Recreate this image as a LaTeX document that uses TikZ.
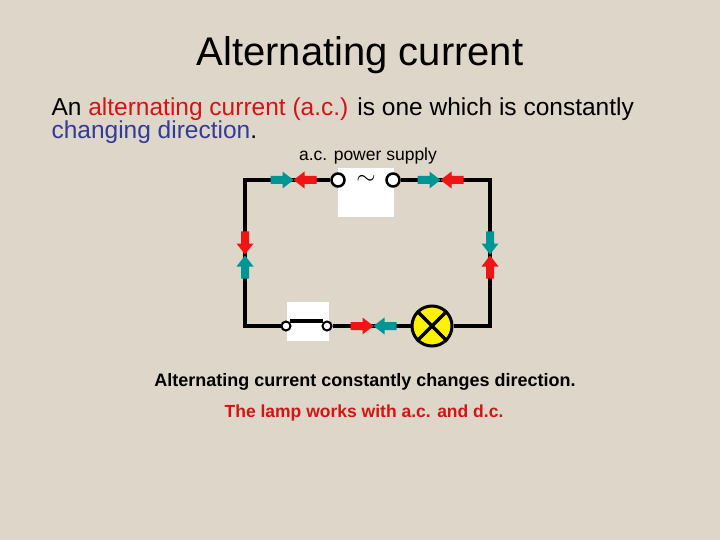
\documentclass[tikz,border=0pt]{standalone}
\usepackage{fontspec}
\setmainfont{Liberation Sans}
\begin{document}
\begin{tikzpicture}[x=1pt,y=-1pt,
  wire/.style={line width=3.5pt,black},
  term/.style={circle,draw=black,line width=2.5pt,fill=white,minimum size=13pt,inner sep=0pt},
  sterm/.style={circle,draw=black,line width=2pt,fill=white,minimum size=9pt,inner sep=0pt},
  blk/.pic={\fill[pic actions] (-11.5,-4) -- (0.5,-4) -- (0.5,-8.5) -- (11.5,0) -- (0.5,8.5) -- (0.5,4) -- (-11.5,4) -- cycle;}]
\definecolor{bg}{RGB}{222,214,200}
\definecolor{tl}{RGB}{0,150,150}
\definecolor{rd}{RGB}{240,20,20}
\definecolor{blu}{RGB}{50,60,150}
\definecolor{red2}{RGB}{210,20,20}
\fill[bg] (0,0) rectangle (720,540);
\useasboundingbox (0,0) rectangle (720,540);
\fill[white] (338,168) rectangle (394,217);
\fill[white] (287,302) rectangle (329,341);
\node (title) at (360,55) {\fontsize{40}{44}\selectfont Alternating current};
\node[anchor=west] (l1) at (48,109) {\fontsize{24.5}{28}\selectfont An \textcolor{red2}{alternating current (a.c.)} is one which is constantly};
\node[anchor=west] (l2) at (48,132) {\fontsize{24.5}{28}\selectfont \textcolor{blu}{changing direction}.};
\node (ps) at (368,156) {\fontsize{17.5}{18}\selectfont a.c. power supply};
\coordinate (tl) at (245,180); \coordinate (tr) at (490,180);
\coordinate (bl) at (245,326); \coordinate (br) at (490,326);
\node[term] (t1) at (338,180) {};
\node[term] (t2) at (393,180) {};
\node[inner sep=0pt] (tilde) at (366,180) {\fontsize{26}{26}\selectfont $\sim$};
\node[circle,draw=black,line width=3pt,fill=yellow,minimum size=40pt,inner sep=0pt] (lamp) at (432,326) {};
\draw[line width=3.5pt] (lamp.north west) -- (lamp.south east) (lamp.north east) -- (lamp.south west);
\node[sterm] (s1) at (286,326) {};
\node[sterm] (s2) at (327,326) {};
\draw[wire] (t1) -- (tl) -- (bl) -- (s1);
\draw[wire] (s1.north east) ++(0,-1) coordinate (sa) -- (s2.north west |- sa);
\draw[wire] (s2) -- (lamp);
\draw[wire] (lamp) -- (br) -- (tr) -- (t2);
% arrows
\pic[fill=tl] at (282,180) {blk};
\pic[fill=rd,rotate=180] at (305,180) {blk};
\pic[fill=tl] at (429,180) {blk};
\pic[fill=rd,rotate=180] at (452,180) {blk};
\pic[fill=rd,rotate=-90] at (245,243) {blk};
\pic[fill=tl,rotate=90] at (245,267) {blk};
\pic[fill=tl,rotate=-90] at (490,243) {blk};
\pic[fill=rd,rotate=90] at (490,267) {blk};
\pic[fill=rd] at (362,326) {blk};
\pic[fill=tl,rotate=180] at (385,326) {blk};
\node (c1) at (365,382) {\fontsize{18}{20}\selectfont\bfseries Alternating current constantly changes direction.};
\node (c2) at (364,413) {\fontsize{17.5}{20}\selectfont\bfseries\color{red2} The lamp works with a.c. and d.c.};
\end{tikzpicture}
\end{document}
